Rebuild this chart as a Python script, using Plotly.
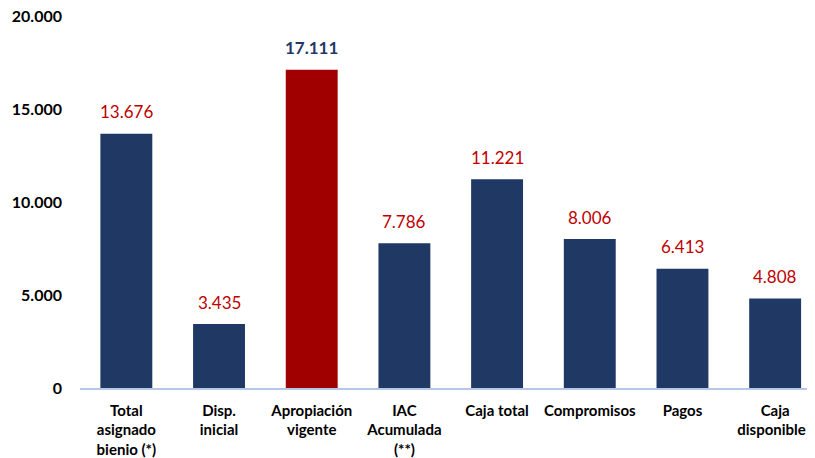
import plotly.graph_objects as go

categories = ["Total<br>asignado<br>bienio (*)", "Disp.<br>inicial", "Apropiación<br>vigente",
              "IAC<br>Acumulada<br>(**)", "Caja total", "Compromisos", "Pagos", "Caja<br>disponible\u00a0\u00a0"]
values = [13676, 3435, 17111, 7786, 11221, 8006, 6413, 4808]
value_labels = ["13.676", "3.435", "17.111", "7.786", "11.221", "8.006", "6.413", "4.808"]
bar_colors = ["#1F3864", "#1F3864", "#A00000", "#1F3864", "#1F3864", "#1F3864", "#1F3864", "#1F3864"]
label_colors = ["#C00000", "#C00000", "#1F3864", "#C00000", "#C00000", "#C00000", "#C00000", "#C00000"]
label_bold = [False, False, True, False, False, False, False, False]
y_ticks = [0, 5000, 10000, 15000, 20000]
y_tick_labels = ["0", "5.000", "10.000", "15.000", "20.000"]

FONT = "Lato, Carlito, Calibri, sans-serif"

fig = go.Figure()
fig.add_trace(go.Bar(
    x=list(range(len(categories))), y=values,
    marker=dict(color=bar_colors, line=dict(width=0)),
    width=0.56, hoverinfo="skip",
))

for i, (v, t, c, b) in enumerate(zip(values, value_labels, label_colors, label_bold)):
    fig.add_annotation(
        x=i, y=v, text=f"<b>{t}</b>" if b else t, showarrow=False,
        yshift=22, font=dict(family=FONT, size=17, color=c),
    )

fig.update_layout(
    width=807, height=450,
    margin=dict(l=72, r=0, t=8, b=70),
    plot_bgcolor="white", paper_bgcolor="white",
    showlegend=False,
    font=dict(family=FONT),
    xaxis=dict(
        tickmode="array", tickvals=list(range(len(categories))),
        ticktext=[f"<b>{c}</b>" for c in categories],
        range=[-0.5, 7.43], showgrid=False, zeroline=False,
        showline=True, linecolor="#B4C7E7", linewidth=1.5,
        ticks="", tickfont=dict(family=FONT, size=15, color="#000000"),
        automargin=False, ticklabelstandoff=8, ticklabeloverflow="allow",
    ),
    yaxis=dict(
        range=[0, 20000], tickmode="array", tickvals=y_ticks,
        ticktext=[f"<b>{t}</b>" for t in y_tick_labels],
        showgrid=False, zeroline=False, showline=False, ticks="",
        tickfont=dict(family=FONT, size=16, color="#000000"),
        ticklabelstandoff=17, automargin=False, ticklabeloverflow="allow",
    ),
    bargap=0.44,
)

fig.write_html("out.html")
